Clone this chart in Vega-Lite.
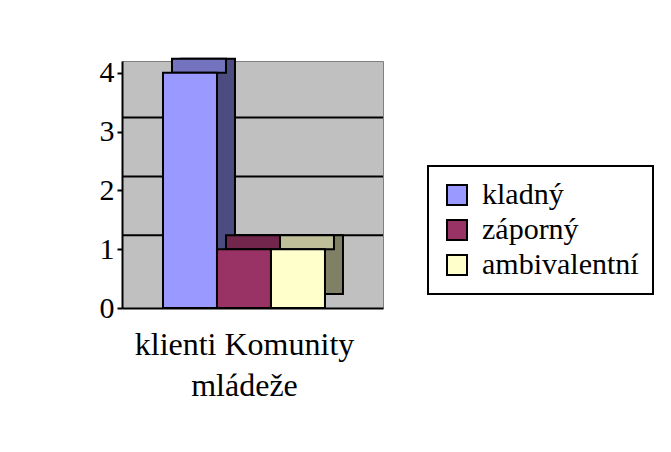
{
  "$schema": "https://vega.github.io/schema/vega-lite/v6.json",
  "autosize": {"type": "none"},
  "padding": {"left": 122, "top": 61, "right": 288, "bottom": 144},
  "width": 261,
  "height": 247,
  "background": "white",
  "config": {
    "view": {"fill": "#c0c0c0", "stroke": "#808080", "strokeWidth": 1},
    "font": "Liberation Serif",
    "legend": {"labelFont": "Liberation Serif", "labelFontSize": 30, "labelColor": "black"}
  },
  "datasets": {
    "bars": [
      {"skupina": "klienti Komunity mládeže", "postoj": "kladný", "pocet": 4},
      {"skupina": "klienti Komunity mládeže", "postoj": "záporný", "pocet": 1},
      {"skupina": "klienti Komunity mládeže", "postoj": "ambivalentní", "pocet": 1}
    ],
    "grid": [{"g": 1}, {"g": 2}, {"g": 3}]
  },
  "resolve": {"scale": {"color": "independent"}},
  "layer": [
    {
      "data": {"name": "grid"},
      "mark": {"type": "rule", "stroke": "black", "strokeWidth": 2, "yOffset": -14},
      "encoding": {
        "y": {"field": "g", "type": "quantitative", "scale": {"domain": [0, 4.2], "nice": false},
              "axis": {"values": [0, 1, 2, 3, 4], "format": "d", "grid": false, "domainColor": "black", "domainWidth": 2,
                       "tickColor": "black", "tickWidth": 2, "tickSize": 5, "labelFont": "Liberation Serif",
                       "labelFontSize": 30, "labelColor": "black", "labelPadding": 3, "title": null}}
      }
    },
    {
      "data": {"name": "bars"},
      "mark": {"type": "bar", "stroke": "black", "strokeWidth": 2, "xOffset": 18, "yOffset": -14, "y2Offset": -14},
      "encoding": {
        "x": {"field": "postoj", "type": "nominal", "sort": ["kladný", "záporný", "ambivalentní"],
              "scale": {"paddingInner": 0, "paddingOuter": 0.917, "align": 0.414},
              "axis": {"labels": false, "ticks": false, "domainColor": "black", "domainWidth": 2,
                       "title": ["klienti Komunity", "mládeže"], "titleFont": "Liberation Serif", "titleFontSize": 32,
                       "titleFontWeight": "normal", "titleColor": "black", "titlePadding": 21, "titleLineHeight": 41,
                       "titleX": 122}},
        "y": {"field": "pocet", "type": "quantitative"},
        "color": {"field": "postoj", "type": "nominal", "legend": null,
                  "scale": {"domain": ["kladný", "záporný", "ambivalentní"], "range": ["#4c4c80", "#4c1a33", "#808066"]}}
      }
    },
    {
      "data": {"name": "bars"},
      "mark": {"type": "bar", "stroke": "black", "strokeWidth": 2, "xOffset": 9, "yOffset": -14, "y2Offset": 0},
      "encoding": {
        "x": {"field": "postoj", "type": "nominal", "sort": ["kladný", "záporný", "ambivalentní"]},
        "y": {"field": "pocet", "type": "quantitative"},
        "y2": {"field": "pocet"},
        "color": {"field": "postoj", "type": "nominal", "legend": null,
                  "scale": {"domain": ["kladný", "záporný", "ambivalentní"], "range": ["#7373bf", "#73264c", "#bfbf99"]}}
      }
    },
    {
      "data": {"name": "bars"},
      "mark": {"type": "bar", "stroke": "black", "strokeWidth": 2, "opacity": 1},
      "encoding": {
        "x": {"field": "postoj", "type": "nominal", "sort": ["kladný", "záporný", "ambivalentní"]},
        "y": {"field": "pocet", "type": "quantitative"},
        "color": {"field": "postoj", "type": "nominal",
                  "scale": {"domain": ["kladný", "záporný", "ambivalentní"], "range": ["#9999ff", "#993366", "#ffffcc"]},
                  "legend": {"title": null, "orient": "none", "legendX": 306, "legendY": 105,
                             "symbolType": "square", "symbolSize": 400, "symbolStrokeColor": "black", "symbolStrokeWidth": 2,
                             "symbolOpacity": 1, "labelFont": "Liberation Serif", "labelFontSize": 30, "labelColor": "black",
                             "labelOffset": 10, "rowPadding": 5, "padding": 14,
                             "encode": {"legend": {"update": {"stroke": {"value": "black"}, "strokeWidth": {"value": 2}, "fill": {"value": "white"}}},
                                        "labels": {"update": {"font": {"value": "Liberation Serif"}, "fontSize": {"value": 30}, "fill": {"value": "black"}}}}}}
      }
    }
  ]
}
